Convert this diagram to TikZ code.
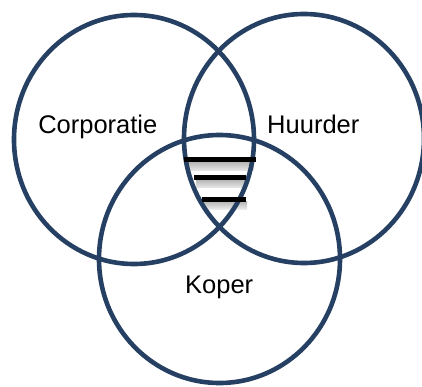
\documentclass[tikz,border=0pt]{standalone}
\usepackage{fontspec}
\setmainfont{Liberation Sans}
\begin{document}
\definecolor{ringblue}{RGB}{37,64,98}
\begin{tikzpicture}[x=1pt,y=-1pt,
  ring/.style={draw=ringblue,line width=4.6pt},
  setlabel/.style={anchor=base,inner sep=0pt,font=\fontsize{25.5}{30}\selectfont},
  barshade/.style={top color=black!28,bottom color=black!8,draw=none},
  barline/.style={draw=black,line width=5pt}]
\useasboundingbox (0,0) rectangle (422,387);
% soft shadows under the three bars
\shade[barshade] (187,162.3) rectangle (254,171);
\shade[barshade] (196,180) rectangle (246,188);
\shade[barshade] (203,201.7) rectangle (247,209);
% the three sets
\draw[ring] (134,139.5) ellipse [x radius=120,y radius=124.5];
\draw[ring] (304,138.5) ellipse [x radius=120,y radius=124.5];
\draw[ring] (219.5,259) ellipse [x radius=120.5,y radius=124];
% bars in the common intersection
\coordinate (b1l) at (184,159.8);  \coordinate (b1r) at (256,159.8);
\coordinate (b2l) at (194,177.6);  \coordinate (b2r) at (246,177.6);
\coordinate (b3l) at (202,199.2);  \coordinate (b3r) at (246,199.2);
\draw[barline] (b1l) -- (b1r);
\draw[barline] (b2l) -- (b2r);
\draw[barline] (b3l) -- (b3r);
% set names
\node[setlabel] (corp) at (97.8,133.3) {Corporatie};
\node[setlabel] (huur) at (313.3,133.3) {Huurder};
\node[setlabel] (kop) at (219.2,293.3) {Koper};
\end{tikzpicture}
\end{document}
